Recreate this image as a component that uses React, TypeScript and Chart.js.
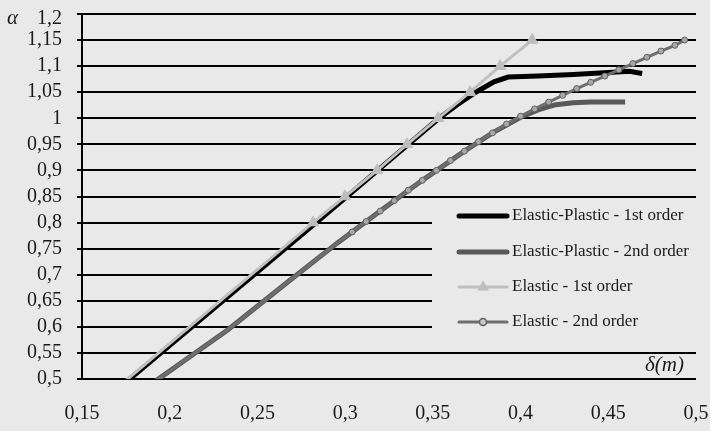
import React, { useEffect, useRef } from "react";
import { Chart, registerables } from "chart.js";

Chart.register(...registerables);

// ---- data (δ in m, α load factor) ----
const xMin = 0.15;
const xMax = 0.5;
const yMin = 0.5;
const yMax = 1.2;
const step = 0.05;

const seriesNames = [
  "Elastic-Plastic - 1st order",
  "Elastic-Plastic - 2nd order",
  "Elastic - 1st order",
  "Elastic - 2nd order",
];

const ep1Delta = [0, 0.2835, 0.3535, 0.3635, 0.3745, 0.3848, 0.3929, 0.41, 0.43, 0.45, 0.462, 0.4693];
const ep1Alpha = [0, 0.8, 1.0, 1.025, 1.05, 1.07, 1.079, 1.081, 1.084, 1.088, 1.09, 1.086];

const ep2Delta = [0.186, 0.233, 0.268, 0.296, 0.32, 0.344, 0.368, 0.384, 0.4, 0.41, 0.42, 0.43, 0.44, 0.4596];
const ep2Alpha = [0.482, 0.594, 0.688, 0.762, 0.822, 0.881, 0.937, 0.972, 1.002, 1.016, 1.026, 1.03, 1.031, 1.031];

const e1Delta = [0, 0.2817, 0.2999, 0.3182, 0.3353, 0.353, 0.3712, 0.3883, 0.4066];
const e1Alpha = [0, 0.8, 0.85, 0.9, 0.95, 1.0, 1.05, 1.1, 1.15];

const e2Delta = [0.186, 0.233, 0.268, 0.296, 0.304, 0.312, 0.32, 0.328, 0.336, 0.344, 0.352, 0.36, 0.368, 0.376, 0.384, 0.392, 0.4, 0.408, 0.416, 0.424, 0.432, 0.44, 0.448, 0.456, 0.464, 0.472, 0.48, 0.488, 0.4935];
const e2Alpha = [0.482, 0.594, 0.688, 0.762, 0.782, 0.802, 0.822, 0.842, 0.862, 0.881, 0.9, 0.919, 0.937, 0.955, 0.972, 0.989, 1.004, 1.018, 1.031, 1.044, 1.057, 1.069, 1.081, 1.093, 1.105, 1.117, 1.129, 1.14, 1.15];

const BG = "#e9e9e9";
const TEXT = "#1a1a1a";
const FONT = "'Liberation Serif', 'Times New Roman', serif";
const TICK_SIZE = 20;

const fmt = (v: number) => String(Math.round(v * 100) / 100).replace(".", ",");
const pts = (xs: number[], ys: number[]) => xs.map((x, i) => ({ x, y: ys[i] }));

const legendItems = [
  { color: "#000000", width: 5, marker: "none" },
  { color: "#595959", width: 5, marker: "none" },
  { color: "#c0c0c0", width: 3, marker: "triangle" },
  { color: "#6e6e6e", width: 3, marker: "circle" },
];

const overlayPlugin = {
  id: "overlay",
  afterDraw(chart: any) {
    const ctx = chart.ctx as CanvasRenderingContext2D;
    ctx.save();
    // top tick label (sits slightly below its gridline in the original)
    ctx.fillStyle = TEXT;
    ctx.font = `${TICK_SIZE}px ${FONT}`;
    ctx.textAlign = "right";
    ctx.textBaseline = "middle";
    ctx.fillText(fmt(yMax), 62, 19);
    // axis symbols
    ctx.font = `italic 21px ${FONT}`;
    ctx.textAlign = "left";
    ctx.fillText("α", 7, 18);
    ctx.font = `italic 21px ${FONT}`;
    ctx.textAlign = "right";
    ctx.fillText("δ(m)", 684, 365);

    // legend
    ctx.fillStyle = BG;
    ctx.fillRect(432, 199, 270, 151);
    const rows = [216, 252, 287, 322];
    const x0 = 459;
    const x1 = 507;
    legendItems.forEach((it, i) => {
      const y = rows[i];
      ctx.beginPath();
      ctx.strokeStyle = it.color;
      ctx.lineWidth = it.width;
      ctx.lineCap = "round";
      ctx.moveTo(x0, y);
      ctx.lineTo(x1, y);
      ctx.stroke();
      const cx = (x0 + x1) / 2;
      if (it.marker === "triangle") {
        const r = 6.5;
        ctx.beginPath();
        ctx.fillStyle = "#bdbdbd";
        ctx.moveTo(cx, y - r);
        ctx.lineTo(cx + r * 0.9, y + r * 0.55);
        ctx.lineTo(cx - r * 0.9, y + r * 0.55);
        ctx.closePath();
        ctx.fill();
      } else if (it.marker === "circle") {
        ctx.beginPath();
        ctx.fillStyle = "#c8c8c8";
        ctx.strokeStyle = "#606060";
        ctx.lineWidth = 1.5;
        ctx.arc(cx, y, 3.5, 0, Math.PI * 2);
        ctx.fill();
        ctx.stroke();
      }
      ctx.fillStyle = TEXT;
      ctx.font = `17px ${FONT}`;
      ctx.textAlign = "left";
      ctx.textBaseline = "middle";
      ctx.fillText(seriesNames[i], 512, y);
    });
    ctx.restore();
  },
};

export default function App() {
  const ref = useRef<HTMLCanvasElement | null>(null);

  useEffect(() => {
    if (!ref.current) return;
    document.body.style.margin = "0";
    document.body.style.background = BG;
    const chart = new Chart(ref.current, {
      type: "line",
      data: {
        datasets: [
          {
            label: seriesNames[0],
            data: pts(ep1Delta, ep1Alpha),
            borderColor: "#000000",
            borderWidth: 5,
            pointRadius: 0,
            order: 4,
            clip: 0,
          },
          {
            label: seriesNames[1],
            data: pts(ep2Delta, ep2Alpha),
            borderColor: "#595959",
            borderWidth: 5,
            pointRadius: 0,
            order: 3,
            clip: 0,
          },
          {
            label: seriesNames[2],
            data: pts(e1Delta, e1Alpha),
            borderColor: "#c0c0c0",
            borderWidth: 3,
            pointStyle: "triangle",
            pointRadius: e1Alpha.map((_, i) => (i === 0 ? 0 : 6.5)),
            pointBackgroundColor: "#bdbdbd",
            pointBorderColor: "#bdbdbd",
            pointBorderWidth: 1,
            order: 2,
            clip: 0,
          },
          {
            label: seriesNames[3],
            data: pts(e2Delta, e2Alpha),
            borderColor: "#6e6e6e",
            borderWidth: 3,
            pointStyle: "circle",
            pointRadius: e2Alpha.map((_, i) => (i < 4 ? 0 : 3)),
            pointBackgroundColor: "#a8a8a8",
            pointBorderColor: "#606060",
            pointBorderWidth: 1,
            order: 1,
            clip: 0,
          },
        ],
      },
      options: {
        animation: false,
        responsive: false,
        maintainAspectRatio: false,
        layout: { padding: { top: 14, right: 14, left: 0, bottom: 0 } },
        plugins: {
          legend: { display: false },
          tooltip: { enabled: false },
        },
        elements: { line: { tension: 0 } },
        scales: {
          x: {
            type: "linear",
            min: xMin,
            max: xMax,
            afterFit: (s: any) => {
              s.height = 52;
              s.paddingLeft = 0;
              s.paddingRight = 0;
            },
            afterBuildTicks: (s: any) => {
              const t = [];
              for (let v = xMin; v <= xMax + 1e-9; v += step) t.push({ value: Math.round(v * 100) / 100 });
              s.ticks = t;
            },
            grid: { display: false, drawTicks: false, tickLength: 0 },
            border: { display: false },
            ticks: {
              color: TEXT,
              font: { family: FONT, size: TICK_SIZE },
              padding: 23,
              maxRotation: 0,
              autoSkip: false,
              callback: (v: any) => fmt(Number(v)),
            },
          },
          y: {
            type: "linear",
            min: yMin,
            max: yMax,
            afterFit: (s: any) => {
              s.width = 82;
              s.paddingTop = 0;
              s.paddingBottom = 0;
            },
            afterBuildTicks: (s: any) => {
              const t = [];
              for (let v = yMin; v <= yMax + 1e-9; v += step) t.push({ value: Math.round(v * 100) / 100 });
              s.ticks = t;
            },
            grid: { color: "#000000", lineWidth: 2, tickLength: 5, drawTicks: true },
            border: { display: true, color: "#000000", width: 2 },
            ticks: {
              color: TEXT,
              font: { family: FONT, size: TICK_SIZE },
              padding: 15,
              autoSkip: false,
              callback: (v: any) => (Math.abs(Number(v) - yMax) < 1e-9 ? "" : fmt(Number(v))),
            },
          },
        },
      },
      plugins: [overlayPlugin],
    });
    return () => chart.destroy();
  }, []);

  return (
    <div style={{ position: "fixed", left: 0, top: 0, width: 710, height: 431, background: BG }}>
      <canvas ref={ref} width={710} height={431} style={{ display: "block" }} />
    </div>
  );
}
